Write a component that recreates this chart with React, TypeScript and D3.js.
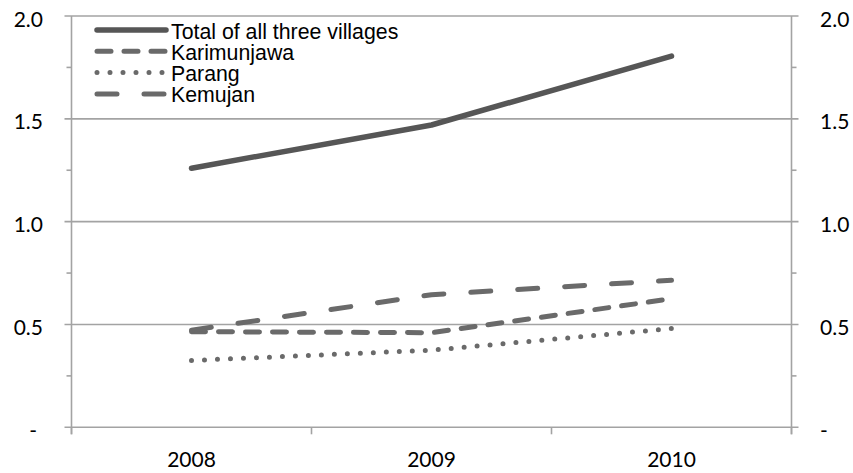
import React from "react";
import * as d3 from "d3";

const categories = ["2008", "2009", "2010"];
const totalValues = [1.26, 1.47, 1.805];
const karimunjawaValues = [0.465, 0.46, 0.625];
const parangValues = [0.325, 0.375, 0.48];
const kemujanValues = [0.472, 0.645, 0.715];
const yTicks = [0, 0.5, 1.0, 1.5, 2.0];
const yTickLabels = ["-", "0.5", "1.0", "1.5", "2.0"];
const yMinorTicks = [0.25, 0.75, 1.25, 1.75];

const seriesList = [
  { name: "Total of all three villages", values: totalValues, color: "#565656", dash: "none" },
  { name: "Karimunjawa", values: karimunjawaValues, color: "#6a6a6a", dash: "14 13" },
  { name: "Parang", values: parangValues, color: "#6a6a6a", dash: "0 13" },
  { name: "Kemujan", values: kemujanValues, color: "#6a6a6a", dash: "20 27" },
];

export default function App() {
  const W = 853, H = 473;
  const left = 71.5, right = 791.5, top = 16, bottom = 427.3;
  const x = d3.scaleBand<string>().domain(categories).range([left, right]);
  const y = d3.scaleLinear().domain([0, 2]).range([bottom, top]);
  const line = d3
    .line<number>()
    .x((_, i) => (x(categories[i]) as number) + x.bandwidth() / 2)
    .y((d) => y(d));
  const axisColor = "#a3a3a3";
  const labelFont = "Lato, 'Open Sans', sans-serif";
  const legendFont = "'Liberation Sans', Arial, sans-serif";
  const catTicks = [...categories.map((c) => x(c) as number), right];

  return (
    <svg width={W} height={H} style={{ position: "absolute", left: 0, top: 0, background: "#fff" }}>
      {yTicks.map((t) =>
        t === 0 ? null : (
          <line key={"g" + t} x1={left - 7} x2={right + 7} y1={y(t)} y2={y(t)} stroke={axisColor} strokeWidth={1.6} />
        )
      )}
      {yMinorTicks.map((t) => (
        <g key={"m" + t}>
          <line x1={left - 5} x2={left} y1={y(t)} y2={y(t)} stroke={axisColor} strokeWidth={1.6} />
          <line x1={right} x2={right + 5} y1={y(t)} y2={y(t)} stroke={axisColor} strokeWidth={1.6} />
        </g>
      ))}
      <line x1={left} x2={left} y1={top} y2={bottom + 7} stroke={axisColor} strokeWidth={1.6} />
      <line x1={right} x2={right} y1={top} y2={bottom + 7} stroke={axisColor} strokeWidth={1.6} />
      <line x1={left - 7} x2={right + 7} y1={bottom} y2={bottom} stroke={axisColor} strokeWidth={1.6} />
      {catTicks.map((cx, i) => (
        <line key={"ct" + i} x1={cx} x2={cx} y1={bottom} y2={bottom + 7} stroke={axisColor} strokeWidth={1.6} />
      ))}
      {yTicks.map((t, i) => (
        <g key={"yl" + t} fontFamily={labelFont} fontSize={21} fill="#000">
          <text x={t === 0 ? 37 : 43} y={y(t) + 10.5} textAnchor="end">
            {yTickLabels[i]}
          </text>
          <text x={820} y={y(t) + 10.5} textAnchor="start">
            {yTickLabels[i]}
          </text>
        </g>
      ))}
      {categories.map((c) => (
        <text
          key={"xl" + c}
          x={(x(c) as number) + x.bandwidth() / 2}
          y={467}
          textAnchor="middle"
          fontFamily={labelFont}
          fontSize={21}
          fill="#000"
        >
          {c}
        </text>
      ))}
      {seriesList.map((s) => (
        <path
          key={s.name}
          d={line(s.values) || ""}
          fill="none"
          stroke={s.color}
          strokeWidth={s.name.startsWith("Total") ? 5.5 : 5}
          strokeDasharray={s.dash}
          strokeLinecap="round"
          strokeLinejoin="round"
        />
      ))}
      {seriesList.map((s, i) => {
        const ly = 30 + i * 21.3;
        return (
          <g key={"lg" + s.name}>
            <line
              x1={97}
              x2={166}
              y1={ly}
              y2={ly}
              stroke={s.color}
              strokeWidth={s.name.startsWith("Total") ? 5.5 : 5}
              strokeDasharray={s.dash}
              strokeLinecap="round"
            />
            <text x={171} y={ly + 8.5} fontFamily={legendFont} fontSize={21.3} fill="#000">
              {s.name}
            </text>
          </g>
        );
      })}
    </svg>
  );
}
